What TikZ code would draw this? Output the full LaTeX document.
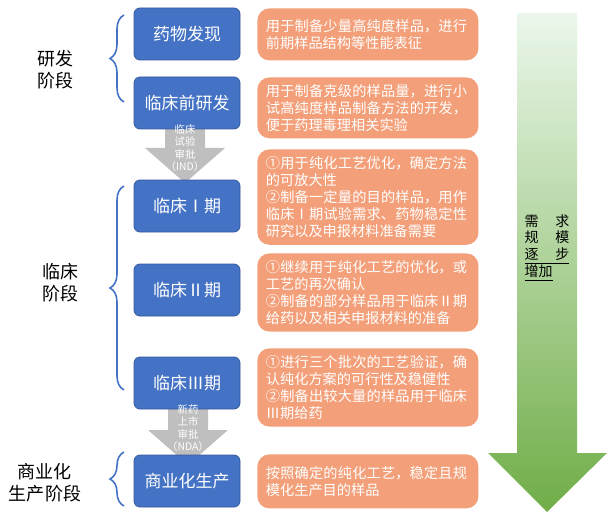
\documentclass[tikz,border=0pt]{standalone}
\usepackage{fontspec}
\setmainfont{Noto Sans CJK SC}
\XeTeXlinebreaklocale "zh"
\XeTeXlinebreakskip=0pt plus 1pt
\usetikzlibrary{positioning, shapes, arrows.meta, calc, decorations.pathreplacing}
\definecolor{stageblue}{RGB}{68,114,196}
\definecolor{noteorange}{RGB}{243,160,122}
\definecolor{approvegray}{RGB}{191,191,191}
\tikzset{
  stage/.style={rectangle, rounded corners=3pt, fill=stageblue, draw=stageblue!80!black, text=white,
    minimum width=53pt, minimum height=26pt, font=\fontsize{8.5}{10}\selectfont},
  note/.style={rectangle, rounded corners=6pt, fill=noteorange, text=white, anchor=north west,
    minimum width=110.5pt, inner xsep=4pt, align=left, text width=102pt, font=\fontsize{7.1}{8.6}\selectfont},
  phase/.style={align=center, font=\fontsize{9}{11}\selectfont},
  gate/.style={font=\fontsize{5.2}{6.2}\selectfont, text=white, align=center}
}
\begin{document}
\begin{tikzpicture}[x=0.5pt, y=-0.5pt]
  \useasboundingbox (0,0) rectangle (614,513);
  % Green arrow
  \shade[top color=green!60!black!8, bottom color={rgb,255:red,112;green,173;blue,71}]
    (517,13) -- (577,13) -- (577,453) -- (607,453) -- (547,512) -- (488,453) -- (517,453) -- cycle;
  \node[font=\fontsize{7}{8.5}\selectfont, inner sep=0pt] (need) at (547,248)
    {\renewcommand{\arraystretch}{0.9}\begin{tabular}{@{}l@{}}
     需\hspace{1.2em}求\\ 规\hspace{1.2em}模\\ \underline{逐\hspace{1.2em}步}\\ \underline{增加}\end{tabular}};

  % Gray approval arrows
  \fill[approvegray] (165,115) -- (205,115) -- (205,148) -- (225,148) -- (185,183) -- (145,148) -- (165,148) -- cycle;
  \fill[approvegray] (168,398) -- (208,398) -- (208,430) -- (228,430) -- (188,465) -- (148,430) -- (168,430) -- cycle;

  % Stages
  \node[stage] (discover) at (187,34) {药物发现};
  \node[stage] (preclin) at (187,103) {临床前研发};
  \node[stage] (clin1) at (187,206) {临床Ⅰ期};
  \node[stage] (clin2) at (187,290) {临床Ⅱ期};
  \node[stage] (clin3) at (187,383) {临床Ⅲ期};
  \node[stage] (market) at (187,481) {商业化生产};

  \node[gate] (ind) at (185,148) {临床\\试验\\审批\\（IND）};
  \node[gate] (nda) at (188,428) {新药\\上市\\审批\\（NDA）};

  % Notes
  \node[note, minimum height=26pt] (n1) at (257,8) {用于制备少量高纯度样品，进行前期样品结构等性能表征};
  \node[note, minimum height=26pt] (n2) at (257,77) {用于制备克级的样品量，进行小试高纯度样品制备方法的开发，便于药理毒理相关实验};
  \node[note, minimum height=46.5pt] (n3) at (257,149) {①用于纯化工艺优化，确定方法的可放大性\\②制备一定量的目的样品，用作临床Ⅰ期试验需求、药物稳定性研究以及申报材料准备需要};
  \node[note, minimum height=39pt] (n4) at (257,253) {①继续用于纯化工艺的优化，或工艺的再次确认\\②制备的部分样品用于临床Ⅱ期给药以及相关申报材料的准备};
  \node[note, minimum height=38pt] (n5) at (257,348) {①进行三个批次的工艺验证，确认纯化方案的可行性及稳健性\\②制备出较大量的样品用于临床Ⅲ期给药};
  \node[note, minimum height=27pt] (n6) at (257,454) {按照确定的纯化工艺，稳定且规模化生产目的样品};

  % Phases
  \coordinate (b1t) at (124,15); \coordinate (b1b) at (124,102);
  \coordinate (b2t) at (124,186); \coordinate (b2b) at (124,390);
  \coordinate (b3t) at (124,452); \coordinate (b3b) at (124,506);
  \foreach \t/\b in {b1t/b1b, b2t/b2b, b3t/b3b}
    \draw[stageblue, thick, decorate, decoration={brace, amplitude=7pt}] (\b) -- (\t);
  \node[phase] (research) at (55,70) {研发\\阶段};
  \node[phase] (clinical) at (60,283) {临床\\阶段};
  \node[phase] (commerce) at (45,483) {商业化\\生产阶段};
\end{tikzpicture}
\end{document}
